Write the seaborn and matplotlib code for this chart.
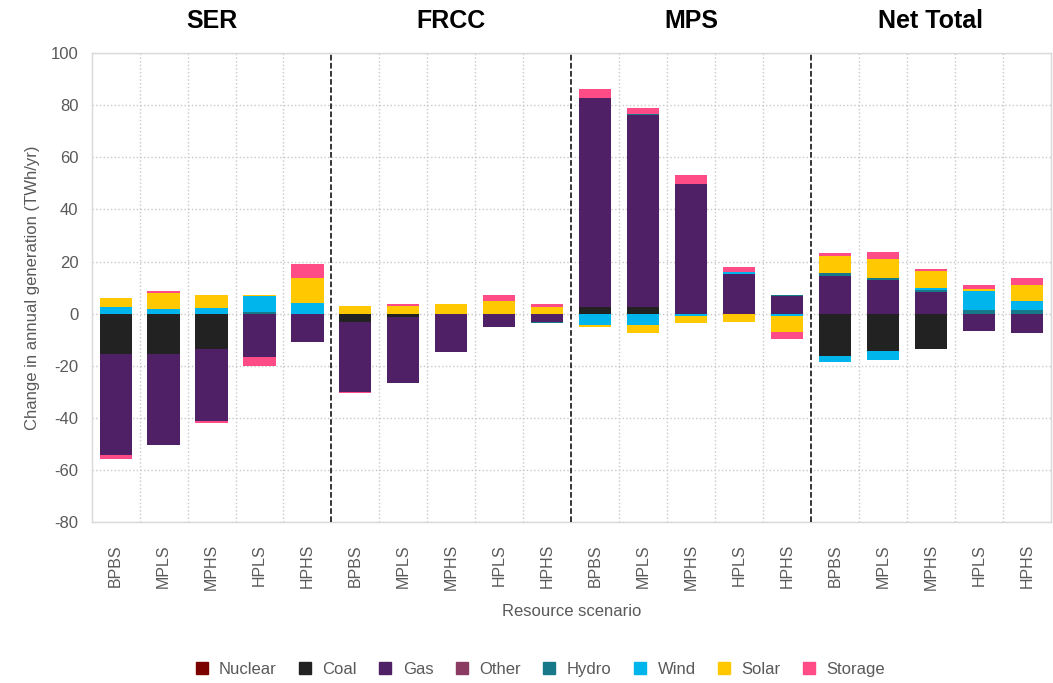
import numpy as np
import pandas as pd
import seaborn as sns
import matplotlib.pyplot as plt
from matplotlib.lines import Line2D
import matplotlib.transforms as mtransforms

regions = ['SER', 'FRCC', 'MPS', 'Net Total']
scenarios = ['BPBS', 'MPLS', 'MPHS', 'HPLS', 'HPHS']
techs = ['Nuclear', 'Coal', 'Gas', 'Other', 'Hydro', 'Wind', 'Solar', 'Storage']
colors = ['#7B0000', '#222222', '#4F2066', '#8B3A62', '#17788A', '#00B4EC', '#FFC800', '#FF4B86']

# values per bar: SER x5, FRCC x5, MPS x5, Net Total x5 (TWh/yr)
nuclear = [0, 0, 0, 0, 0, 0, 0, 0, 0, 0, 0, 0, 0, 0, 0, 0, 0, 0, 0, 0]
coal = [-15.5, -15.5, -13.8, 0, 0, -3.2, -1.5, 0, 0, 0,
        2.6, 2.6, 0, 0, 0, -16.4, -14.5, -13.7, 0, 0]
gas = [-39.0, -35.0, -27.6, -16.8, -10.8, -26.9, -25.1, -14.6, -5.1, -3.3,
       80.2, 73.8, 49.8, 15.1, 6.8, 14.5, 12.8, 8.1, -6.8, -7.4]
other = [0, 0, 0, 0, 0, 0, 0, 0, 0, 0, 0, 0, 0, 0, 0, 0, 0, 0.3, 0, 0]
hydro = [0, 0, 0, 0.5, 0, 0, 0, 0, 0, -0.5,
         0, 0.4, 0, 0, 0.4, 1.1, 0.9, 0.8, 1.3, 1.3]
wind = [2.5, 1.9, 2.0, 6.1, 4.2, 0, 0, 0, 0, 0,
        -4.5, -4.5, -0.9, 1.0, -0.9, -2.3, -3.4, 0.5, 7.3, 3.6]
solar = [3.6, 6.0, 5.3, 0.5, 9.6, 3.0, 3.0, 3.8, 4.8, 2.5,
         -0.6, -2.9, -2.9, -3.2, -6.1, 6.5, 7.1, 6.5, 1.0, 6.0]
storage = [-1.5, 0.6, -0.5, -3.3, 5.1, -0.5, 0.8, -0.3, 2.4, 1.3,
           3.3, 2.3, 3.3, 1.7, -2.6, 1.1, 3.0, 1.1, 1.2, 2.9]

values = dict(zip(techs, [nuclear, coal, gas, other, hydro, wind, solar, storage]))

slots = [f'{r}|{s}' for r in regions for s in scenarios]
df = pd.DataFrame(values)
df['slot'] = slots

# cumulative stacks, positives and negatives separately
pos = df[techs].clip(lower=0).cumsum(axis=1)
neg = df[techs].clip(upper=0).cumsum(axis=1)

sns.set_theme(style='white')
plt.rcParams['font.family'] = ['Liberation Sans', 'DejaVu Sans']
plt.rcParams['axes.unicode_minus'] = False

fig, ax = plt.subplots(figsize=(10.53, 6.83), dpi=100)
fig.subplots_adjust(left=0.087, right=0.998, top=0.922, bottom=0.236)

# draw from top of stack down so each layer covers the one beneath
for tech, col in reversed(list(zip(techs, colors))):
    sns.barplot(x=df['slot'], y=pos[tech], order=slots, color=col, width=0.67,
                errorbar=None, ax=ax, saturation=1, linewidth=0)
    sns.barplot(x=df['slot'], y=neg[tech], order=slots, color=col, width=0.67,
                errorbar=None, ax=ax, saturation=1, linewidth=0)

ax.set_ylim(-80, 100)
ax.set_xlim(-0.5, len(slots) - 0.5)
ax.set_yticks(np.arange(-80, 101, 20))
ax.yaxis.grid(True, color='#c8c8c8', linestyle=':', linewidth=1)
for i in range(1, len(slots)):
    if i % 5 == 0:
        ax.axvline(i - 0.5, color='black', linestyle='--', linewidth=1.1, zorder=3)
    else:
        ax.axvline(i - 0.5, color='#c8c8c8', linestyle=':', linewidth=1, zorder=0)
ax.set_axisbelow(True)

ax.set_xticks(range(len(slots)))
ax.set_xticklabels(scenarios * len(regions), rotation=90, color='#595959', fontsize=11.5)
ax.tick_params(axis='y', labelcolor='#595959', labelsize=12)
ax.tick_params(axis='x', pad=10)
for s in ax.spines.values():
    s.set_color('#d9d9d9')
    s.set_linewidth(1)

ax.set_xlabel('Resource scenario', color='#595959', fontsize=12, labelpad=10)
ax.set_ylabel('Change in annual generation (TWh/yr)', color='#595959', fontsize=12, labelpad=8)

trans = mtransforms.blended_transform_factory(ax.transData, ax.transAxes)
for k, r in enumerate(regions):
    ax.text(k * 5 + 2, 1.068, r, transform=trans, ha='center', va='center',
            fontsize=18, fontweight='bold', color='black')

handles = [Line2D([], [], marker='s', linestyle='', markersize=9, color=c) for c in colors]
fig.legend(handles, techs, loc='center', bbox_to_anchor=(0.508, 0.02), ncol=8,
           frameon=False, fontsize=12, handletextpad=0.05, columnspacing=0.7,
           labelcolor='#595959')

fig.savefig('out.png', dpi=100)
